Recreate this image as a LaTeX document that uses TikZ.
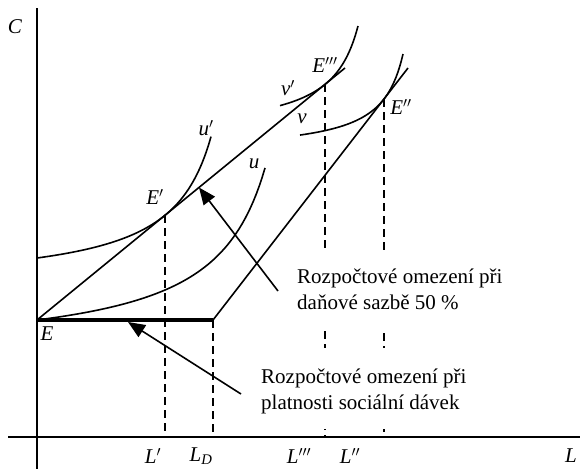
\documentclass[tikz,border=0pt]{standalone}
\usepackage{fontspec}
\setmainfont{Liberation Serif}
\usetikzlibrary{arrows.meta}
\begin{document}
\begin{tikzpicture}[x=1pt,y=-1pt,
  axis/.style={line width=2.2pt},
  thickseg/.style={line width=3.4pt},
  curveline/.style={line width=1.6pt},
  dashline/.style={line width=1.6pt, dash pattern=on 8pt off 5pt},
  ptr/.style={line width=1.6pt, -{Triangle[length=17pt,width=14pt]}},
  lbl/.style={font=\fontsize{21}{26}\selectfont\itshape, inner sep=0pt},
  txt/.style={font=\fontsize{21}{26}\selectfont, inner sep=0pt, anchor=base west},
]
\useasboundingbox (0,0) rectangle (580,469);

% key points
\coordinate (E) at (37,320);
\coordinate (D) at (213,320);
\coordinate (T1) at (345,68);
\coordinate (T2) at (408,68);
\coordinate (Ep) at (165,215.3);
\coordinate (Eppp) at (325,84.4);
\coordinate (Epp) at (384,99);
\coordinate (O) at (37,437);
\coordinate (Ytop) at (37,8);
\coordinate (Ybot) at (37,469);
\coordinate (Xl) at (8,437);
\coordinate (Xr) at (580,437);

% axes
\draw[axis] (Ytop) -- (Ybot);
\draw[axis] (Xl) -- (Xr);

% budget lines
\draw[curveline] (E) -- (T1);
\draw[curveline] (D) -- (T2);

% indifference curves
\draw[curveline] plot[domain=37:211, samples=80] (\x,{287.43-6363/(253.2-\x)});
\draw[curveline] plot[domain=37:265, samples=80] (\x,{356.14-10199/(319.2-\x)});
\draw[curveline] plot[domain=280:358, samples=60] (\x,{134.6-3084/(386.4-\x)});
\draw[curveline] plot[domain=300:403, samples=60] (\x,{153-2257/(425.8-\x)});

% dashed drop lines
\draw[dashline] (Ep) -- (Ep |- O);
\draw[dashline] (D) -- (D |- O);
\draw[dashline] (Eppp) -- (Eppp |- O);
\draw[dashline] (Epp) -- (Epp |- O);

% white masks behind the texts
\fill[white] (290,253) rectangle (515,328);
\fill[white] (252,348) rectangle (525,429);

\node[txt] (t1a) at (297,283) {Rozpočtové omezení při};
\node[txt] (t1b) at (297,309) {daňové sazbě 50 \%};
\node[txt] (t2a) at (261,383) {Rozpočtové omezení při};
\node[txt] (t2b) at (261,409) {platnosti sociální dávek};

% pointers
\coordinate (a1s) at (278,291);
\coordinate (a1e) at (199,187.5);
\coordinate (a2s) at (241,394);
\coordinate (a2e) at (128,322);
\draw[ptr] (a1s) -- (a1e);
\draw[ptr] (a2s) -- (a2e);

% thick segment E -- L_D
\draw[thickseg] (E) -- (D);

% labels
\node[lbl] (lC) at (15,27) {C};
\node[lbl] (lE) at (47,334) {E};
\node[lbl] (lEp) at (155,197) {E$'$};
\node[lbl] (lEppp) at (325,65) {E$'''$};
\node[lbl] (lEpp) at (401,107) {E$''$};
\node[lbl] (lup) at (206,128) {u$'$};
\node[lbl] (lu) at (254,164) {u};
\node[lbl] (lvp) at (288,88) {v$'$};
\node[lbl] (lv) at (302,119) {v};
\node[lbl] (lLp) at (153,456) {L$'$};
\node[lbl] (lLD) at (201,456) {L\textsubscript{\textit{D}}};
\node[lbl] (lLppp) at (299,456) {L$'''$};
\node[lbl] (lLpp) at (350,456) {L$''$};
\node[lbl] (lL) at (571,456) {L};
\end{tikzpicture}
\end{document}
